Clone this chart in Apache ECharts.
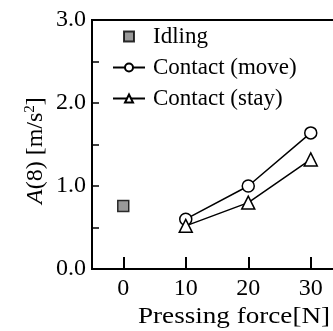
<!DOCTYPE html>
<html>
<head>
<meta charset="utf-8">
<script src="https://cdn.jsdelivr.net/npm/echarts@6/dist/echarts.min.js"></script>
<style>html,body{margin:0;padding:0;background:#fff}#c{width:333px;height:331px}</style>
</head>
<body>
<div id="c"></div>
<script>
const forceIdling = [0];
const idlingValues = [0.76];
const forceContact = [10, 20, 30];
const contactMove = [0.60, 1.00, 1.64];
const contactStay = [0.52, 0.80, 1.32];
const xTickValues = [0, 10, 20, 30];
const yLabelValues = [0, 1, 2, 3];
const seriesNames = ['Idling', 'Contact (move)', 'Contact (stay)'];

const FONT = 'Liberation Serif';
const chart = echarts.init(document.getElementById('c'), null, {renderer: 'canvas'});
const pair = (xs, ys) => xs.map((x, i) => [x, ys[i]]);

chart.setOption({
  animation: false,
  backgroundColor: '#fff',
  grid: {left: 92, top: 20, width: 250, height: 249, outerBoundsMode: 'none', containLabel: false,
         show: true, borderColor: '#000', borderWidth: 2, backgroundColor: 'transparent'},
  xAxis: {
    type: 'value', min: -5, max: 35,
    axisLine: {show: true, onZero: false, lineStyle: {color: '#000', width: 2}},
    axisTick: {show: true, inside: true, length: 12, lineStyle: {color: '#000', width: 2}, customValues: xTickValues},
    axisLabel: {show: true, customValues: xTickValues, margin: 8, color: '#000', fontFamily: FONT, fontSize: 24},
    splitLine: {show: false}
  },
  yAxis: {
    type: 'value', min: 0, max: 3, interval: 0.5,
    axisLine: {show: true, onZero: false, lineStyle: {color: '#000', width: 2}},
    axisTick: {show: true, inside: true, length: 7, lineStyle: {color: '#000', width: 1.5}},
    axisLabel: {show: true, customValues: yLabelValues, formatter: v => Number(v).toFixed(1), margin: 6, color: '#000', fontFamily: FONT, fontSize: 24},
    splitLine: {show: false}
  },
  legend: {
    orient: 'vertical', left: 107, top: 20, itemWidth: 32, itemHeight: 10, itemGap: 8,
    textStyle: {color: '#000', fontFamily: FONT, fontSize: 23, padding: [0, 0, 0, 3]},
    data: [
      {name: seriesNames[0], icon: 'path://M0 0H10V10H0Z'},
      {name: seriesNames[1]},
      {name: seriesNames[2]}
    ]
  },
  graphic: [
    {type: 'text', x: 138, y: 305, scaleX: 1.13, style: {text: 'Pressing force[N]', fill: '#000', font: '24px "Liberation Serif"'}},
    {type: 'text', x: 22, y: 204, rotation: Math.PI / 2,
     style: {
       text: '{i|A}{n|(8) [m/s}{s|2}{n|]}',
       rich: {
         i: {fontFamily: FONT, fontSize: 24, fontStyle: 'italic', fill: '#000', lineHeight: 28},
         n: {fontFamily: FONT, fontSize: 24, fill: '#000', lineHeight: 28},
         s: {fontFamily: FONT, fontSize: 15, fill: '#000', lineHeight: 28, padding: [0, 0, 12, 0]}
       }
     }}
  ],
  series: [
    {name: seriesNames[0], type: 'scatter', data: pair(forceIdling, idlingValues), symbol: 'rect', symbolSize: 11,
     itemStyle: {color: '#808080', borderColor: '#000', borderWidth: 1.5}},
    {name: seriesNames[1], type: 'line', data: pair(forceContact, contactMove), symbol: 'circle', symbolSize: 12,
     lineStyle: {color: '#000', width: 1.5}, itemStyle: {color: '#fff', borderColor: '#000', borderWidth: 1.5}},
    {name: seriesNames[2], type: 'line', data: pair(forceContact, contactStay), symbol: 'triangle', symbolSize: 13,
     lineStyle: {color: '#000', width: 1.5}, itemStyle: {color: '#fff', borderColor: '#000', borderWidth: 1.5}}
  ]
});
</script>
</body>
</html>
